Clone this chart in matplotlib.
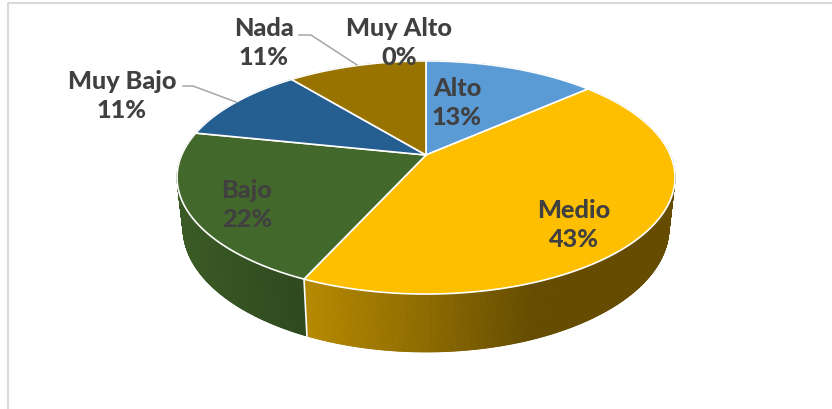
import numpy as np
from matplotlib import pyplot as plt
from matplotlib.colors import to_rgb

# slice shares, labels as printed on it
categories = ['Alto', 'Medio', 'Bajo', 'Muy Bajo', 'Nada', 'Muy Alto']
shares = [13.45, 43.3, 21.5, 10.85, 10.9, 0]
colors = ['#5B9BD5', '#FDBF00', '#43682B', '#255E91', '#997300', '#264478']

# label centres in pixels
label_pos = [(457, 103), (574, 225), (247, 205), (122, 96), (264, 43), (399, 43)]
TEXT = '#404040'

# perspective of the pie, in pixels
CX = 426
K = 0.193
TOP = (244.3, 112.2, 156)
BOTTOM = (238.4, 119.4, 205)


def project(theta, plane):
    a, b, c = plane
    w = 1 + K * np.cos(theta)
    return CX + a * np.sin(theta) / w, c - b * np.cos(theta) / w


def shade(color, factor):
    return tuple(np.array(to_rgb(color)) * factor)


# brightness of the outer wall against screen x
wall_shade = {
    'Medio': ([305, 425, 530], [0.72, 0.56, 0.40]),
    'Bajo': ([180, 305], [0.87, 0.70]),
}

fig = plt.figure(figsize=(8.32, 4.1), dpi=100)
ax = fig.add_axes([0, 0, 1, 1])
ax.set_xlim(0, 832)
ax.set_ylim(410, 0)
ax.axis('off')

# chart frame, only top and left show in the crop
ax.plot([8, 8, 832], [410, 4, 4], color='#D9D9D9', lw=1.5, zorder=1)

edges = 2 * np.pi * np.concatenate([[0], np.cumsum(shares)]) / sum(shares)

# outer wall first, the top surface covers whatever is behind
for i, name in enumerate(categories):
    if shares[i] == 0:
        continue
    steps = np.arange(edges[i], edges[i + 1] + 0.004, 0.004)
    steps[-1] = edges[i + 1]
    stops = wall_shade.get(name, ([0, 832], [0.7, 0.7]))
    for t0, t1 in zip(steps[:-1], steps[1:]):
        x0, y0 = project(t0, TOP)
        x1, y1 = project(t1, TOP)
        x2, y2 = project(t1, BOTTOM)
        x3, y3 = project(t0, BOTTOM)
        c = shade(colors[i], np.interp((x0 + x1) / 2, stops[0], stops[1]))
        ax.fill([x0, x1, x2, x3], [y0, y1, y2, y3], color=c, lw=0.6, zorder=2)

# seam on the wall where Medio meets Bajo
seam = edges[2]
sx0, sy0 = project(seam, TOP)
sx1, sy1 = project(seam, BOTTOM)
ax.plot([sx0, sx1], [sy0, sy1], color='white', lw=1.2, zorder=3)

# top surface
for i in range(len(categories)):
    if shares[i] == 0:
        continue
    t = np.linspace(edges[i], edges[i + 1], 200)
    x, y = project(t, TOP)
    ax.fill(np.r_[CX, x], np.r_[TOP[2], y], facecolor=colors[i], edgecolor='white',
            lw=1.2, joinstyle='round', zorder=4)

# leader lines
ax.plot([299, 311, 357], [36, 36, 66], color='#A6A6A6', lw=1.1, zorder=5)
ax.plot([183, 193, 236], [87, 87, 103], color='#A6A6A6', lw=1.1, zorder=5)

for i, name in enumerate(categories):
    ax.text(label_pos[i][0], label_pos[i][1], '%s\n%.0f%%' % (name, shares[i]),
            ha='center', va='center', family='Lato', weight=900, fontsize=18.2,
            color=TEXT, linespacing=1.32, zorder=6)

fig.savefig('out.png', dpi=100)
